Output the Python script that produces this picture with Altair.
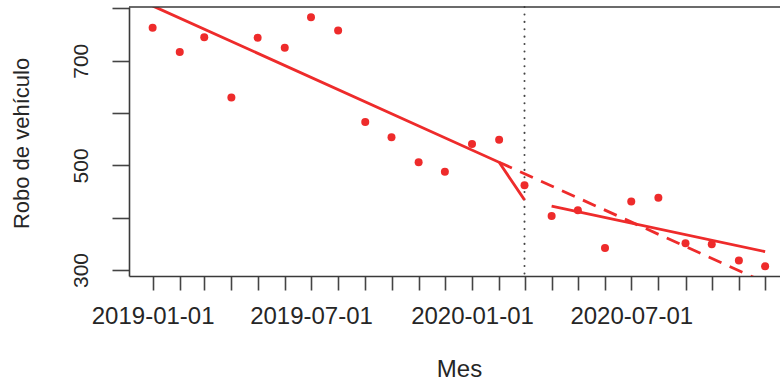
import altair as alt
import pandas as pd

# ---- data ----
meses = ["2019-01-01", "2019-02-01", "2019-03-01", "2019-04-01", "2019-05-01", "2019-06-01",
         "2019-07-01", "2019-08-01", "2019-09-01", "2019-10-01", "2019-11-01", "2019-12-01",
         "2020-01-01", "2020-02-01", "2020-03-01", "2020-04-01", "2020-05-01", "2020-06-01",
         "2020-07-01", "2020-08-01", "2020-09-01", "2020-10-01", "2020-11-01", "2020-12-01"]
robos = [763, 717, 745, 630, 744, 725, 783, 758, 583, 554, 506, 488,
         541, 549, 462, 403, 414, 342, 431, 438, 351, 349, 318, 307]

pre_fechas = ["2019-01-01", "2020-02-01", "2020-03-01"]
pre_ajuste = [805, 506, 434]
post_fechas = ["2020-04-01", "2020-12-01"]
post_ajuste = [422, 335]
cf_fechas = ["2020-02-01", "2020-12-01"]
cf_ajuste = [506, 276]
intervencion = ["2020-03-01"]

y_ticks = [300, 400, 500, 600, 700, 800]
x_domain = ["2018-12-05", "2020-12-18"]

ROJO = "#EE2B2B"
FONT = "Liberation Sans"


def ms(s):
    return int(pd.Timestamp(s).value // 10**6)


puntos = pd.DataFrame({"fecha": meses, "valor": robos})
pre = pd.DataFrame({"fecha": pre_fechas, "valor": pre_ajuste})
post = pd.DataFrame({"fecha": post_fechas, "valor": post_ajuste})
cf = pd.DataFrame({"fecha": cf_fechas, "valor": cf_ajuste})
vline = pd.DataFrame({"fecha": intervencion, "valor": [500]})

x_scale = alt.Scale(type="utc", domain=[ms(x_domain[0]), ms(x_domain[1])])
y_scale = alt.Scale(domain=[288.5, 802.8], nice=False, zero=False)

x_axis = alt.Axis(
    values=[ms(m) for m in meses],
    labelExpr="utcmonth(datum.value) % 6 == 0 ? utcFormat(datum.value, '%Y-%m-%d') : ''",
    labelOverlap=False, labelFlush=False,
    labelFont=FONT, labelFontSize=24, labelColor="#262626",
    labelBaseline="alphabetic", labelPadding=33,
    tickSize=14, tickWidth=1.6, tickColor="#444444",
    domainColor="#3a3a3a", domainWidth=1.6, grid=False,
    title="Mes", titleFont=FONT, titleFontSize=24, titleFontWeight="normal",
    titleColor="#262626", titleX=330, titleY=100, titleAlign="center",
    titleBaseline="alphabetic",
)
y_axis = alt.Axis(
    values=y_ticks,
    labelExpr="datum.value % 200 == 100 ? datum.label : ''",
    labelOverlap=False, labelFlush=False,
    labelAngle=270, labelAlign="center", labelBaseline="alphabetic", labelPadding=25,
    labelFont=FONT, labelFontSize=21, labelColor="#262626",
    tickSize=17, tickWidth=1.6, tickColor="#444444",
    domainColor="#3a3a3a", domainWidth=1.6, grid=False,
    title="Robo de vehículo", titleFont=FONT, titleFontSize=22, titleFontWeight="normal",
    titleColor="#262626", titleAngle=270, titleAlign="center", titleBaseline="alphabetic",
    titleX=-101, titleY=136,
)

X = alt.X("fecha:T", scale=x_scale, axis=x_axis)
Y = alt.Y("valor:Q", scale=y_scale, axis=y_axis)

pts = alt.Chart(puntos).mark_circle(size=64, color=ROJO, opacity=1, clip=True).encode(x=X, y=Y)


def linea(df, **kw):
    return alt.Chart(df).mark_line(color=ROJO, strokeWidth=2.8, clip=True, **kw).encode(x=X, y=Y)


l_pre = linea(pre)
l_post = linea(post)
l_cf = linea(cf, strokeDash=[14, 9])

v = alt.Chart(vline).mark_rule(color="#444444", strokeWidth=2, strokeDash=[0.1, 7.3],
                               strokeCap="round").encode(x=X)

top = alt.Chart(pd.DataFrame({"a": [0]})).mark_rule(color="#3a3a3a", strokeWidth=1.6).encode(
    x=alt.value(0), x2=alt.value(651), y=alt.value(0)
)

chart = alt.layer(v, l_cf, l_pre, l_post, pts, top).properties(
    width=651, height=269,
    padding={"left": 129, "top": 7, "right": 0, "bottom": 105},
    autosize="none",
    background="white",
).configure_view(strokeWidth=0)

chart.save("out.html", embed_options={"renderer": "svg", "actions": False})
